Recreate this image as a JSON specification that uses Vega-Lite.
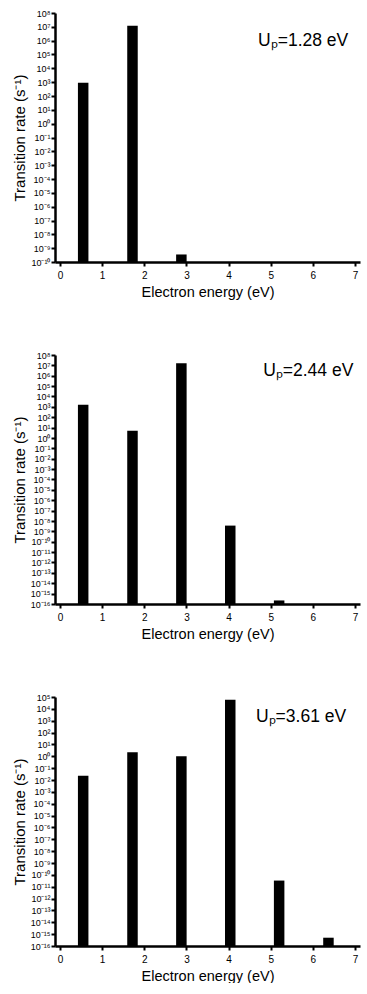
{
  "$schema": "https://vega.github.io/schema/vega-lite/v6.json",
  "padding": {"left": 12, "top": 9, "right": 4, "bottom": 0},
  "spacing": 52,
  "config": {
    "view": {"stroke": null},
    "font": "Liberation Sans",
    "axis": {
      "grid": false,
      "domain": true,
      "domainColor": "#000000",
      "domainWidth": 2.5,
      "ticks": true,
      "tickColor": "#000000",
      "tickWidth": 2,
      "tickSize": 4,
      "labelColor": "#000000",
      "titleColor": "#000000",
      "labelFont": "Liberation Sans",
      "titleFont": "Liberation Sans",
      "titleFontWeight": "normal"
    },
    "axisX": {"labelPadding": 4, "labelFontSize": 10, "titlePadding": 5, "titleFontSize": 14.5, "labelFlush": false},
    "axisY": {"labelPadding": 1, "labelFontSize": 9, "titlePadding": 3, "titleFontSize": 15}
  },
  "datasets": {
    "rates": [
      {"panel": 1, "energy": 0.55, "rate": 900},
      {"panel": 1, "energy": 1.72, "rate": 12000000},
      {"panel": 1, "energy": 2.88, "rate": 3.5e-10},
      {"panel": 2, "energy": 0.55, "rate": 1600},
      {"panel": 2, "energy": 1.72, "rate": 5},
      {"panel": 2, "energy": 2.88, "rate": 16000000},
      {"panel": 2, "energy": 4.04, "rate": 3.6e-9},
      {"panel": 2, "energy": 5.2, "rate": 2.2e-16},
      {"panel": 3, "energy": 0.55, "rate": 0.023},
      {"panel": 3, "energy": 1.72, "rate": 2.2},
      {"panel": 3, "energy": 2.88, "rate": 1.0},
      {"panel": 3, "energy": 4.04, "rate": 60000},
      {"panel": 3, "energy": 5.2, "rate": 3.3e-11},
      {"panel": 3, "energy": 6.37, "rate": 5e-16}
    ],
    "labels": [
      {"panel": 1, "label": "Uₚ=1.28 eV", "x": 4.7, "y": 440000},
      {"panel": 2, "label": "Uₚ=2.44 eV", "x": 4.82, "y": 1000000},
      {"panel": 3, "label": "Uₚ=3.61 eV", "x": 4.65, "y": 800}
    ]
  },
  "vconcat": [
    {
      "width": 305, "height": 249,
      "layer": [
        {
          "data": {"name": "rates"},
          "transform": [{"filter": "datum.panel == 1"}],
          "mark": {"type": "bar", "color": "black", "size": 10.5},
          "encoding": {
            "x": {"field": "energy", "type": "quantitative", "scale": {"domain": [0, 7], "nice": false}, "axis": {"values": [0, 1, 2, 3, 4, 5, 6, 7], "title": "Electron energy (eV)"}},
            "y": {"field": "rate", "type": "quantitative", "scale": {"type": "log", "domain": [1e-10, 1e8], "nice": false}, "axis": {"values": [1e-10, 1e-9, 1e-8, 1e-7, 1e-6, 1e-5, 1e-4, 1e-3, 1e-2, 1e-1, 1, 10, 100, 1e3, 1e4, 1e5, 1e6, 1e7, 1e8], "title": "Transition rate (s⁻¹)", "labelExpr": "'10' + replace(replace(replace(replace(replace(replace(replace(replace(replace(replace(replace('' + round(log(datum.value)/LN10), regexp('-','g'), '⁻'), regexp('0','g'), '⁰'), regexp('1','g'), '¹'), regexp('2','g'), '²'), regexp('3','g'), '³'), regexp('4','g'), '⁴'), regexp('5','g'), '⁵'), regexp('6','g'), '⁶'), regexp('7','g'), '⁷'), regexp('8','g'), '⁸'), regexp('9','g'), '⁹')"}},
            "y2": {"datum": 1e-10}
          }
        },
        {
          "data": {"name": "labels"},
          "transform": [{"filter": "datum.panel == 1"}],
          "mark": {"type": "text", "align": "left", "baseline": "alphabetic", "fontSize": 17.5, "color": "black"},
          "encoding": {
            "x": {"field": "x", "type": "quantitative"},
            "y": {"field": "y", "type": "quantitative"},
            "text": {"field": "label"}
          }
        }
      ]
    },
    {
      "width": 305, "height": 249,
      "layer": [
        {
          "data": {"name": "rates"},
          "transform": [{"filter": "datum.panel == 2"}],
          "mark": {"type": "bar", "color": "black", "size": 10.5},
          "encoding": {
            "x": {"field": "energy", "type": "quantitative", "scale": {"domain": [0, 7], "nice": false}, "axis": {"values": [0, 1, 2, 3, 4, 5, 6, 7], "title": "Electron energy (eV)"}},
            "y": {"field": "rate", "type": "quantitative", "scale": {"type": "log", "domain": [1e-16, 1e8], "nice": false}, "axis": {"values": [1e-16, 1e-15, 1e-14, 1e-13, 1e-12, 1e-11, 1e-10, 1e-9, 1e-8, 1e-7, 1e-6, 1e-5, 1e-4, 1e-3, 1e-2, 1e-1, 1, 10, 100, 1e3, 1e4, 1e5, 1e6, 1e7, 1e8], "title": "Transition rate (s⁻¹)", "labelExpr": "'10' + replace(replace(replace(replace(replace(replace(replace(replace(replace(replace(replace('' + round(log(datum.value)/LN10), regexp('-','g'), '⁻'), regexp('0','g'), '⁰'), regexp('1','g'), '¹'), regexp('2','g'), '²'), regexp('3','g'), '³'), regexp('4','g'), '⁴'), regexp('5','g'), '⁵'), regexp('6','g'), '⁶'), regexp('7','g'), '⁷'), regexp('8','g'), '⁸'), regexp('9','g'), '⁹')"}},
            "y2": {"datum": 1e-16}
          }
        },
        {
          "data": {"name": "labels"},
          "transform": [{"filter": "datum.panel == 2"}],
          "mark": {"type": "text", "align": "left", "baseline": "alphabetic", "fontSize": 17.5, "color": "black"},
          "encoding": {
            "x": {"field": "x", "type": "quantitative"},
            "y": {"field": "y", "type": "quantitative"},
            "text": {"field": "label"}
          }
        }
      ]
    },
    {
      "width": 305, "height": 249,
      "layer": [
        {
          "data": {"name": "rates"},
          "transform": [{"filter": "datum.panel == 3"}],
          "mark": {"type": "bar", "color": "black", "size": 10.5},
          "encoding": {
            "x": {"field": "energy", "type": "quantitative", "scale": {"domain": [0, 7], "nice": false}, "axis": {"values": [0, 1, 2, 3, 4, 5, 6, 7], "title": "Electron energy (eV)"}},
            "y": {"field": "rate", "type": "quantitative", "scale": {"type": "log", "domain": [1e-16, 1e5], "nice": false}, "axis": {"values": [1e-16, 1e-15, 1e-14, 1e-13, 1e-12, 1e-11, 1e-10, 1e-9, 1e-8, 1e-7, 1e-6, 1e-5, 1e-4, 1e-3, 1e-2, 1e-1, 1, 10, 100, 1e3, 1e4, 1e5], "title": "Transition rate (s⁻¹)", "labelExpr": "'10' + replace(replace(replace(replace(replace(replace(replace(replace(replace(replace(replace('' + round(log(datum.value)/LN10), regexp('-','g'), '⁻'), regexp('0','g'), '⁰'), regexp('1','g'), '¹'), regexp('2','g'), '²'), regexp('3','g'), '³'), regexp('4','g'), '⁴'), regexp('5','g'), '⁵'), regexp('6','g'), '⁶'), regexp('7','g'), '⁷'), regexp('8','g'), '⁸'), regexp('9','g'), '⁹')"}},
            "y2": {"datum": 1e-16}
          }
        },
        {
          "data": {"name": "labels"},
          "transform": [{"filter": "datum.panel == 3"}],
          "mark": {"type": "text", "align": "left", "baseline": "alphabetic", "fontSize": 17.5, "color": "black"},
          "encoding": {
            "x": {"field": "x", "type": "quantitative"},
            "y": {"field": "y", "type": "quantitative"},
            "text": {"field": "label"}
          }
        }
      ]
    }
  ]
}
